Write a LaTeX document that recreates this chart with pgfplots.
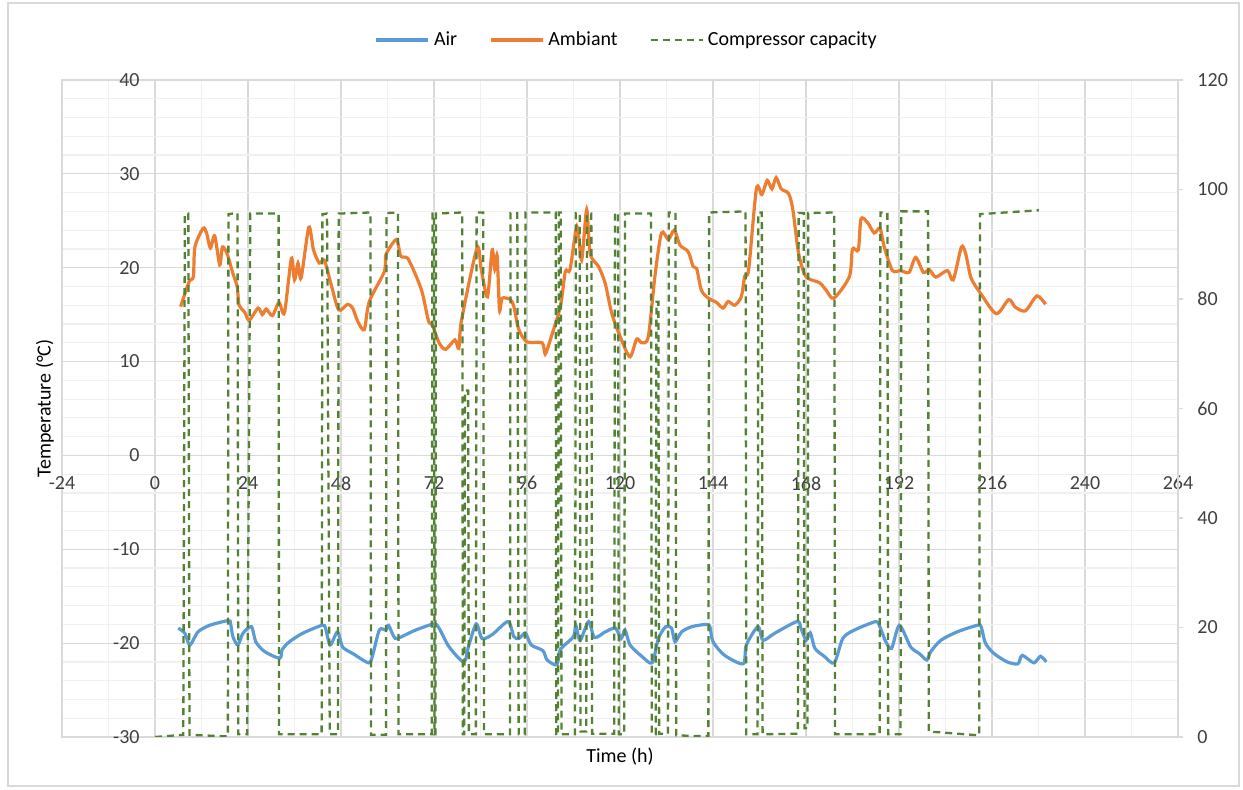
\documentclass[border=0pt]{standalone}
\usepackage{pgfplots}
\pgfplotsset{compat=1.18}
\usepackage{fontspec}
\setmainfont{Carlito}
\definecolor{airc}{HTML}{5B9BD5}
\definecolor{ambc}{HTML}{ED7D31}
\definecolor{compc}{HTML}{548235}
\definecolor{gmaj}{HTML}{D9D9D9}
\definecolor{gmin}{HTML}{F0F0F0}
\definecolor{txt}{HTML}{404040}
\begin{document}
\begin{tikzpicture}
\path[use as bounding box] (-31pt,-26.5pt) rectangle (590.5pt,368.5pt);
\draw[gmaj, line width=0.6pt] (-27pt,-24.5pt) rectangle (588.5pt,367pt);
\begin{axis}[
  width=558pt, height=328.5pt, scale only axis,
  xmin=-24, xmax=264, ymin=-30, ymax=40,
  xtick={-24,0,...,264}, ytick={-30,-20,...,40},
  minor x tick num=1, minor y tick num=4,
  grid=both,
  major grid style={gmaj, line width=0.6pt},
  minor grid style={gmin, line width=0.6pt},
  axis line style={gmaj, line width=0.6pt},
  tick style={draw=none},
  /pgf/number format/assume math mode=true,
  ticklabel style={font=\fontsize{10}{12}\selectfont, text=txt},
  xticklabel style={yshift=133.85pt},
  yticklabel style={xshift=42.3pt},
  xlabel={Time (h)}, ylabel={Temperature (°C)},
  label style={font=\fontsize{10}{12}\selectfont, text=black},
  xlabel style={at={(axis description cs:0.5,-0.0304)}, anchor=center},
  ylabel style={at={(axis description cs:-0.0152,0.5)}, anchor=center},
]
\addplot[ambc, line width=1.6pt, smooth, tension=0.45] table {
6.6 15.85
8.8 18.5
9.9 19.05
10.3 22.2
12.4 24.2
13.3 23.7
14.3 22.1
15.4 23.4
16.7 20.3
17.4 22.2
18.6 21.5
20.1 19.4
21.2 18.0
21.7 16.0
23.1 15.3
24.3 14.4
26.6 15.7
27.7 15.0
28.7 15.6
30.3 14.9
32.0 16.3
33.4 15.2
35.2 21.0
36.0 18.7
36.9 20.5
37.7 18.9
39.7 24.3
40.9 21.9
42.4 20.5
43.7 20.8
45.4 18.3
47.4 15.5
49.7 16.1
51.0 15.7
52.3 14.3
54.0 13.4
55.3 16.4
59.2 19.6
59.6 21.4
62.3 23.0
63.4 21.25
65.2 21.0
67.3 19.2
69.0 17.3
70.6 14.3
71.6 13.9
73.3 12.0
75.0 11.3
77.4 12.3
78.4 11.4
79.1 14.4
83.1 22.1
84.2 19.8
85.8 16.9
87.0 21.9
87.7 19.8
88.3 21.25
88.9 15.5
89.6 16.75
91.7 16.6
92.6 15.85
93.9 13.4
96.0 12.1
99.9 12.0
100.7 10.8
102.0 12.3
104.6 15.85
105.9 19.6
107.1 19.8
108.9 24.4
110.1 20.8
111.4 26.2
112.3 21.5
114.5 20.1
116.2 18.3
117.9 15.1
120.4 12.3
122.6 10.5
124.3 12.4
125.6 12.0
127.3 12.65
129.0 19.05
130.7 23.7
132.5 23.0
134.0 24.0
135.5 22.4
137.6 21.7
138.9 20.1
139.8 19.9
141.0 17.6
142.8 16.75
144.9 16.3
146.6 15.7
147.9 16.4
149.6 16.0
151.3 16.9
152.2 19.1
153.2 19.8
155.2 28.4
156.6 27.8
158.0 29.3
159.2 28.4
160.3 29.6
161.6 28.4
163.5 27.9
164.6 26.2
166.1 21.5
168.0 19.05
171.5 18.4
173.2 17.6
175.2 16.75
179.2 19.05
180.0 22.0
181.5 21.9
182.2 25.2
183.9 24.8
185.6 23.7
187.1 24.2
188.2 22.2
190.3 19.7
192.4 19.7
194.6 19.5
196.3 21.1
198.3 19.5
199.8 19.8
201.5 19.0
204.5 19.7
206.0 18.7
208.1 22.2
209.2 21.5
210.6 18.9
213.0 17.3
217.1 15.1
220.3 16.6
222.0 15.8
224.6 15.4
227.6 17.0
229.8 16.1
};
\addplot[airc, line width=1.6pt, smooth, tension=0.45] table {
6.0 -18.4
7.7 -18.95
9.0 -20.2
11.1 -18.8
14.1 -18.1
18.9 -17.6
19.5 -17.9
20.1 -19.3
21.4 -20.2
22.7 -18.95
24.9 -18.25
26.0 -19.85
28.3 -20.9
32.2 -21.6
32.8 -20.7
34.7 -19.85
38.1 -18.95
43.1 -18.1
44.0 -18.4
45.2 -20.2
47.1 -18.8
48.4 -20.4
51.0 -21.1
55.1 -22.1
56.1 -21.4
57.9 -18.6
59.6 -18.6
60.3 -18.1
62.0 -19.5
64.7 -19.1
67.3 -18.6
72.0 -17.95
73.3 -18.4
75.9 -20.4
79.7 -22.0
81.0 -20.2
82.9 -17.95
84.4 -19.5
87.0 -19.1
91.1 -17.7
92.6 -19.3
93.9 -19.5
95.6 -18.95
97.1 -20.2
100.1 -20.8
101.2 -21.8
103.7 -22.3
104.6 -20.7
108.0 -19.3
108.6 -18.1
109.7 -19.7
111.9 -17.7
113.4 -19.4
116.2 -18.8
118.8 -18.4
120.3 -19.5
121.3 -18.6
122.6 -20.2
125.6 -21.4
128.3 -22.1
129.9 -19.5
131.8 -18.25
133.3 -18.4
134.2 -19.85
135.9 -18.8
138.5 -18.25
142.3 -18.0
143.2 -18.25
144.0 -19.85
147.0 -21.3
151.8 -22.2
152.6 -20.2
155.6 -18.25
156.9 -19.7
159.9 -18.95
165.7 -17.7
166.7 -18.4
168.0 -19.7
169.1 -18.9
170.3 -20.55
172.7 -21.4
175.3 -22.1
177.5 -19.5
180.5 -18.6
186.0 -17.7
186.9 -18.1
188.6 -19.85
190.1 -20.55
192.1 -18.1
195.0 -20.4
197.2 -21.1
199.2 -21.8
200.2 -20.9
202.8 -19.7
207.0 -18.8
212.2 -18.1
213.2 -18.25
214.3 -20.0
216.5 -21.1
219.9 -22.0
222.7 -22.2
223.8 -21.3
226.8 -22.1
228.5 -21.4
230.0 -22.0
};
\end{axis}
\begin{axis}[
  width=558pt, height=328.5pt, scale only axis,
  xmin=-24, xmax=264, ymin=0, ymax=120,
  axis x line=none, axis y line*=right,
  ytick={0,20,...,120},
  axis line style={gmaj, line width=0.6pt},
  tick align=outside, major tick length=2.5pt,
  ytick style={gmaj, line width=0.6pt},
  /pgf/number format/assume math mode=true,
  yticklabel style={font=\fontsize{10}{12}\selectfont, text=txt, xshift=3.7pt},
  legend style={at={(axis description cs:0.507,1.061)}, anchor=center, draw=none, fill=none,
    font=\fontsize{10}{12}\selectfont, /tikz/every even column/.append style={column sep=14pt}},
  legend columns=3,
  legend image code/.code={\draw[#1] (0pt,0pt) -- (26pt,0pt);},
]
\addlegendimage{airc, line width=1.6pt}
\addlegendentry{Air}
\addlegendimage{ambc, line width=1.6pt}
\addlegendentry{Ambiant}
\addplot[compc, line width=1.15pt, dash pattern=on 3.5pt off 2.5pt] table {
0 0
7.3 0.4
7.7 95.5
8.6 95.6
8.9 0.4
18.8 0.1
18.95 95.5
21.3 95.7
21.5 0.5
23.8 0.5
24.6 95.6
31.9 95.6
32.0 0.5
43.0 0.5
43.2 95.5
44.4 95.6
45.1 0.5
47.2 0.5
47.4 95.6
55.6 95.8
55.75 0.4
59.6 0.4
59.75 95.7
62.7 95.8
62.85 0.5
71.4 0.5
71.6 95.6
72.0 95.6
72.15 0.5
72.35 0.5
72.5 95.6
79.3 95.8
79.45 0.5
79.8 0.5
80.0 63.3
80.8 63.3
81.0 0.5
82.8 0.5
83.0 95.8
84.7 95.8
84.9 0.5
91.6 0.5
91.75 95.7
93.5 95.7
93.85 0.5
95.4 0.5
95.6 95.8
103.4 95.8
103.55 0.3
104.0 0.3
104.2 95.8
104.7 95.8
104.9 0.5
108.4 0.5
108.6 95.7
109.6 95.7
109.8 1.0
111.3 1.0
111.5 95.6
112.6 95.6
112.8 0.6
118.5 0.6
118.7 95.7
119.5 95.7
119.7 0.5
121.1 0.5
121.3 95.6
128.0 95.6
128.2 0.5
129.2 0.5
129.4 79.5
129.9 79.5
130.1 0.6
132.4 0.6
132.6 95.8
134.3 95.8
134.5 0.3
142.8 0.1
143.0 95.8
152.4 96
152.6 0.5
155.5 0.5
155.7 95.8
156.6 95.8
156.8 0.5
165.9 0.6
166.1 95.7
167.4 95.7
167.6 1.6
168.4 1.6
168.6 95.7
175.3 95.8
175.5 0.5
187.0 0.5
187.2 95.8
189.0 95.8
189.2 0.5
192.4 0.5
192.6 96
199.5 96
199.7 1.0
212.7 0.3
212.9 95.5
228.1 96.2
};
\addlegendentry{Compressor capacity}
\end{axis}
\end{tikzpicture}
\end{document}
